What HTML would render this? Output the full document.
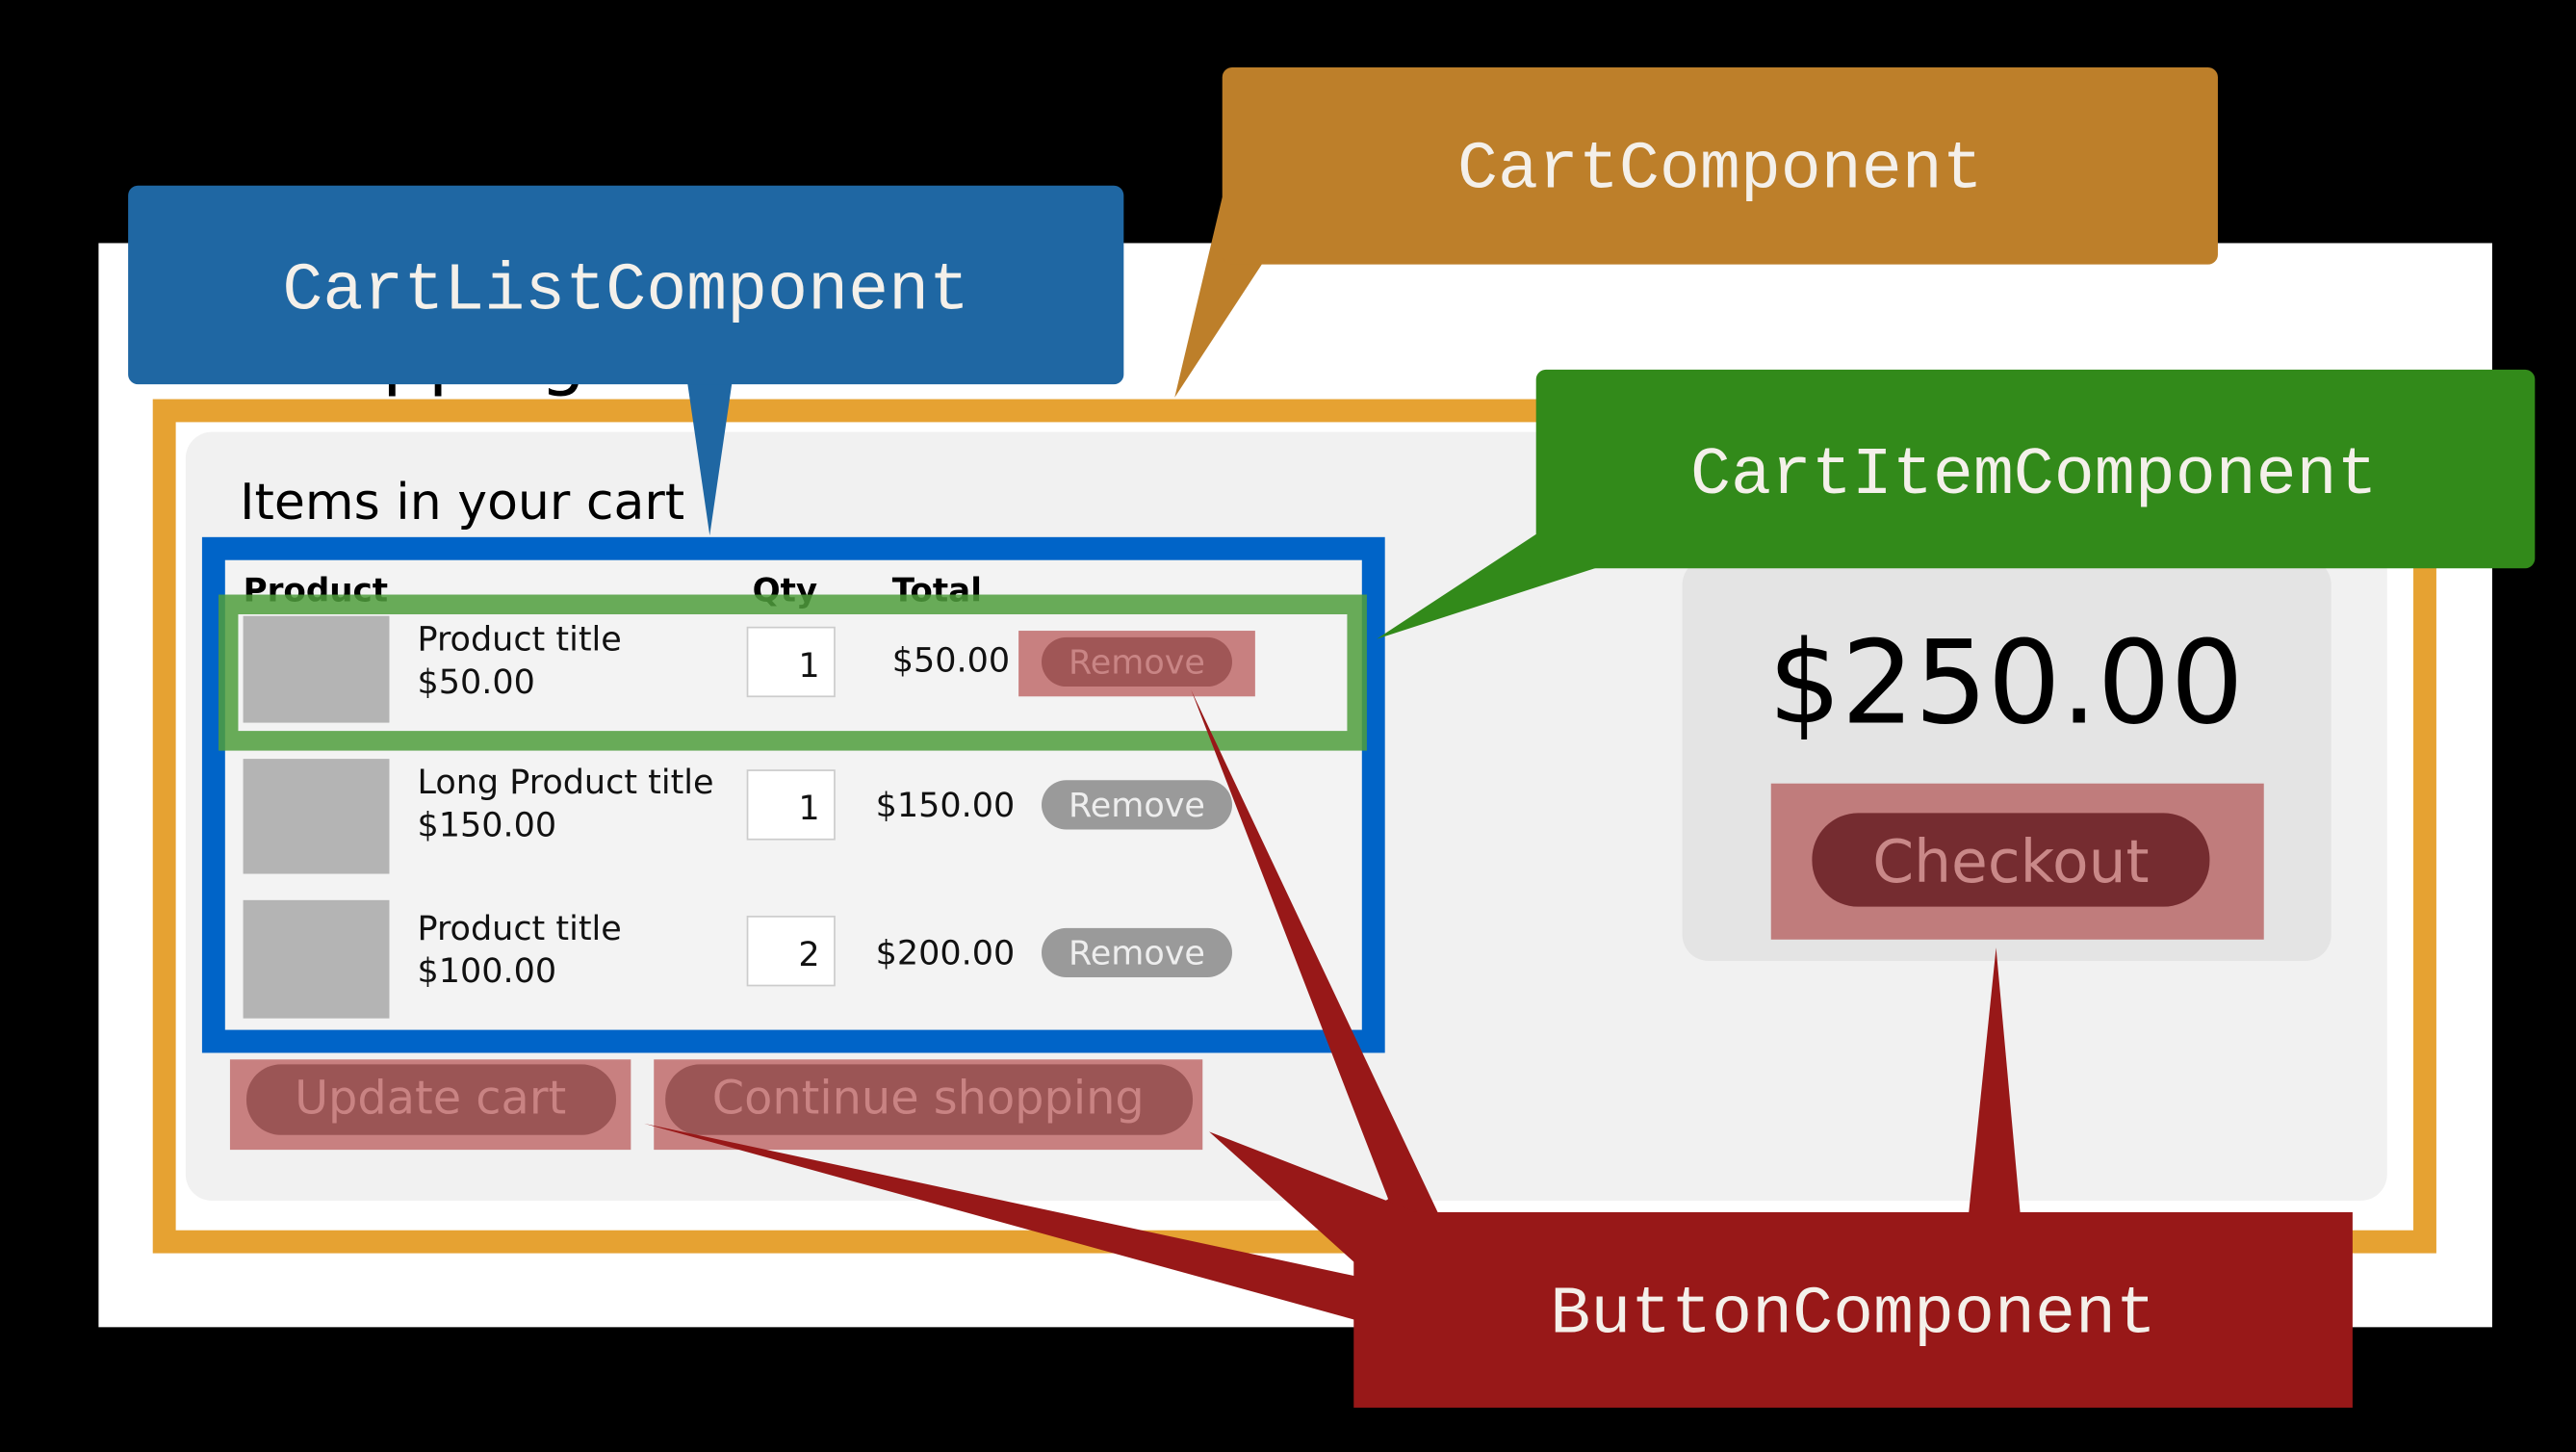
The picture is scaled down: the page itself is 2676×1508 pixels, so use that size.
<!DOCTYPE html>
<html><head><meta charset="utf-8"><style>
html,body{margin:0;padding:0;background:#000;}
svg{display:block;}
.s{font-family:"DejaVu Sans","Liberation Sans",sans-serif;}
.m{font-family:"Liberation Mono","Courier New",monospace;fill:#f4f0ea;text-anchor:middle;}
</style></head><body>
<svg width="2676" height="1508" viewBox="0 0 1568 884" preserveAspectRatio="none" xmlns="http://www.w3.org/2000/svg">
<rect width="1568" height="884" fill="#000"/>
<rect x="60" y="148" width="1457" height="660" fill="#fff"/>
<text x="150" y="232" class="s" font-size="44" fill="#000">Shopping cart</text>
<rect x="100" y="250" width="1376" height="506" fill="#fff" stroke="#e6a232" stroke-width="14"/>
<rect x="113" y="263" width="1340" height="468" rx="16" fill="#f1f1f1"/>
<text x="146" y="316" class="s" font-size="30.5" fill="#000">Items in your cart</text>
<rect x="130" y="334" width="706" height="300" fill="#f3f3f3" stroke="#0064c8" stroke-width="14"/>
<g class="s" font-size="20" font-weight="bold" fill="#000">
<text x="148" y="366">Product</text><text x="458" y="366">Qty</text><text x="543" y="366">Total</text></g>
<g class="s" font-size="20.5" fill="#111">
<rect x="148" y="375" width="89" height="65" fill="#b4b4b4"/>
<rect x="148" y="462" width="89" height="70" fill="#b4b4b4"/>
<rect x="148" y="548" width="89" height="72" fill="#b4b4b4"/>
<text x="254" y="396">Product title</text><text x="254" y="422">$50.00</text>
<text x="254" y="483">Long Product title</text><text x="254" y="509">$150.00</text>
<text x="254" y="572">Product title</text><text x="254" y="598">$100.00</text>
<rect x="455" y="382" width="53" height="42" fill="#fff" stroke="#ccc"/>
<rect x="455" y="469" width="53" height="42" fill="#fff" stroke="#ccc"/>
<rect x="455" y="558" width="53" height="42" fill="#fff" stroke="#ccc"/>
<text x="499" y="412" text-anchor="end">1</text><text x="499" y="499" text-anchor="end">1</text><text x="499" y="588" text-anchor="end">2</text>
<text x="543" y="409">$50.00</text><text x="533" y="497">$150.00</text><text x="533" y="587">$200.00</text>
<rect x="634" y="475" width="116" height="30" rx="15" fill="#9a9a9a"/>
<rect x="634" y="565" width="116" height="30" rx="15" fill="#9a9a9a"/>
<text x="692" y="497" text-anchor="middle" fill="#eee">Remove</text>
<text x="692" y="587" text-anchor="middle" fill="#eee">Remove</text>
<rect x="620" y="384" width="144" height="40" fill="#c88080"/>
<rect x="634" y="388" width="116" height="30" rx="15" fill="#a05656"/>
<text x="692" y="410" text-anchor="middle" fill="#c98585">Remove</text>
</g>
<rect x="139" y="368" width="687" height="83" fill="none" stroke="#4f9e3c" stroke-opacity="0.85" stroke-width="12"/>
<rect x="140" y="645" width="244" height="55" fill="#c88080"/>
<rect x="150" y="648" width="225" height="43" rx="21" fill="#9b5555"/>
<rect x="398" y="645" width="334" height="55" fill="#c88080"/>
<rect x="405" y="648" width="321" height="43" rx="21" fill="#9b5555"/>
<text x="262" y="678" class="s" font-size="28" fill="#c98383" text-anchor="middle">Update cart</text>
<text x="565" y="678" class="s" font-size="28" fill="#c98383" text-anchor="middle">Continue shopping</text>
<rect x="1024" y="340" width="395" height="245" rx="16" fill="#e4e4e4"/>
<text x="1221" y="440" class="s" font-size="70" fill="#000" text-anchor="middle">$250.00</text>
<rect x="1078" y="477" width="300" height="95" fill="#c07c7c"/>
<rect x="1103" y="495" width="242" height="57" rx="28" fill="#752c30"/>
<text x="1224" y="537" class="s" font-size="36" fill="#c98888" text-anchor="middle">Checkout</text>
<!-- callouts -->
<polygon points="744,120 715,242 770,158" fill="#bd7f2a"/>
<rect x="744" y="41" width="606" height="120" rx="6" fill="#bd7f2a"/>
<text x="1047" y="114" class="m" font-size="41">CartComponent</text>
<polygon points="418,230 432,326 446,230" fill="#1f67a3"/>
<rect x="78" y="113" width="606" height="121" rx="6" fill="#1f67a3"/>
<text x="381" y="188" class="m" font-size="41">CartListComponent</text>
<polygon points="940,322 838,389 980,343" fill="#328a1a"/>
<rect x="935" y="225" width="608" height="121" rx="6" fill="#328a1a"/>
<text x="1238" y="300" class="m" font-size="41">CartItemComponent</text>
<g fill="#981818">
<polygon points="725,420 877,742 826,742 845,730"/>
<polygon points="736,689 880,745 826,770"/>
<polygon points="392,684 830,778 830,805"/>
<polygon points="1215,577 1198,742 1230,742"/>
<rect x="824" y="738" width="608" height="119"/>
</g>
<text x="1128" y="811" class="m" font-size="41">ButtonComponent</text>
</svg>
</body></html>
